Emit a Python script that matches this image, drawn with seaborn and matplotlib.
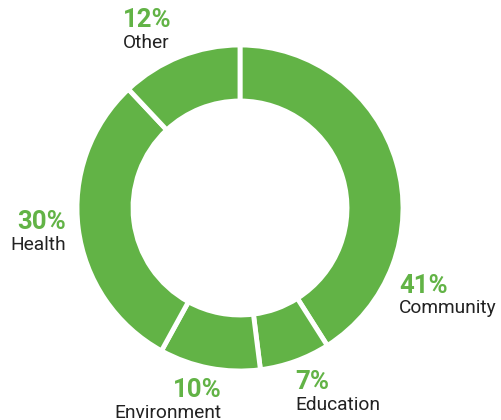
import matplotlib
matplotlib.use('Agg')
import matplotlib.pyplot as plt
import seaborn as sns

categories = ['Community', 'Education', 'Environment', 'Health', 'Other']
shares = [41, 7, 10, 30, 12]
pct_labels = ['41%', '7%', '10%', '30%', '12%']

sns.set_theme(style='white')
plt.rcParams['font.family'] = ['Roboto', 'DejaVu Sans']

green = '#62b346'

fig = plt.figure(figsize=(5.02, 4.20), dpi=100)
ax = fig.add_axes([0, 0, 1, 1])

# donut, clockwise from 12 o'clock
ax.pie(shares, colors=[green] * len(shares), startangle=90, counterclock=False,
       center=(240, 212), radius=163,
       wedgeprops=dict(width=56, edgecolor='white', linewidth=3.5))

# label anchors: x, baseline of percent, baseline of name, alignment
# (pixel coords, y measured from bottom)
label_layout = {
    'Community': (399, 127, 107, 'left'),
    'Education': (295, 31, 10, 'left'),
    'Environment': (222, 23, 2, 'right'),
    'Health': (66, 191, 170, 'right'),
    'Other': (123, 393, 372, 'left'),
}

for cat, pct in zip(categories, pct_labels):
    x, y_pct, y_name, ha = label_layout[cat]
    ax.text(x, y_pct, pct, color=green, fontsize=18.5, fontweight='bold',
            ha=ha, va='baseline')
    ax.text(x, y_name, cat, color='#222222', fontsize=13.8, ha=ha, va='baseline')

ax.set_xlim(0, 502)
ax.set_ylim(0, 420)
ax.set_aspect('equal')
ax.axis('off')

fig.savefig('out.png', dpi=100, facecolor='white')
